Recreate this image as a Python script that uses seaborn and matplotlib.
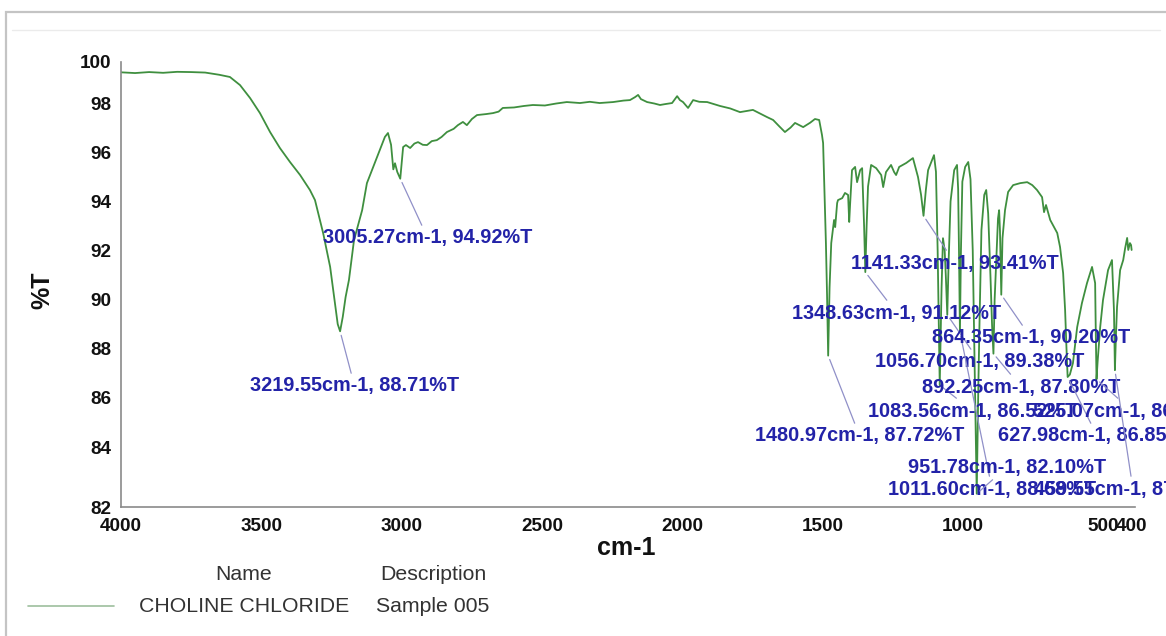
import matplotlib
matplotlib.use("Agg")
import matplotlib.pyplot as plt
import seaborn as sns
import pandas as pd
from matplotlib.patches import Rectangle
from matplotlib.lines import Line2D

# ---------------- data ----------------
wavenumber = [
    4000, 3950, 3900, 3850, 3800, 3750, 3700, 3650, 3612, 3576, 3540, 3505, 3469, 3434,
    3398, 3362, 3327, 3309, 3280, 3255, 3238, 3228, 3219.55, 3210, 3200, 3188, 3170, 3141,
    3124, 3088, 3060, 3049, 3038, 3030, 3024, 3016, 3005.27, 2995, 2985, 2970, 2955, 2942,
    2925, 2910, 2893, 2875, 2858, 2839, 2815, 2800, 2782, 2768, 2750, 2732, 2700, 2675,
    2655, 2640, 2600, 2565, 2533, 2490, 2450, 2412, 2365, 2330, 2295, 2247, 2210, 2187,
    2169, 2158, 2148, 2126, 2100, 2080, 2060, 2037, 2019, 2009, 1998, 1980, 1962, 1940,
    1912, 1866, 1830, 1795, 1749, 1720, 1699, 1677, 1655, 1635, 1615, 1599, 1570, 1545,
    1528, 1513, 1503, 1499, 1489, 1485, 1480.97, 1476, 1470, 1460, 1456, 1449, 1446, 1431,
    1421, 1410, 1406, 1403, 1396, 1385, 1378, 1367, 1360, 1353, 1348.63, 1344, 1339, 1328,
    1310, 1292, 1285, 1275, 1257, 1246, 1239, 1228, 1203, 1179, 1161, 1150, 1141.33, 1133,
    1125, 1115, 1104, 1097, 1091, 1083.56, 1077, 1072, 1066, 1062, 1056.70, 1052, 1045, 1032,
    1022, 1018, 1015, 1011.60, 1008, 1003, 993, 982, 974, 966, 959, 951.78, 946, 942,
    935, 925, 918, 911, 903, 897, 892.25, 888, 882, 876, 872, 869, 864.35, 860,
    851, 840, 822, 797, 772, 754, 737, 719, 712, 705, 690, 665, 655, 644,
    637, 632, 627.98, 620, 609, 594, 577, 559, 541, 530, 527.5, 525.07, 521, 512,
    502, 484, 470, 463, 459.55, 456, 452, 441, 430, 423, 416, 412, 406, 402, 400,
]
transmittance = [
    99.25, 99.22, 99.26, 99.23, 99.27, 99.26, 99.24, 99.15, 99.06, 98.73, 98.20, 97.59, 96.82, 96.17,
    95.60, 95.07, 94.46, 94.05, 92.71, 91.33, 89.86, 89.00, 88.71, 89.30, 90.10, 90.80, 92.42, 93.64,
    94.74, 95.80, 96.62, 96.78, 96.30, 95.30, 95.55, 95.20, 94.92, 96.21, 96.29, 96.17, 96.35, 96.41,
    96.30, 96.29, 96.45, 96.49, 96.62, 96.82, 96.95, 97.10, 97.23, 97.10, 97.35, 97.51, 97.55, 97.59,
    97.65, 97.80, 97.82, 97.88, 97.92, 97.90, 97.98, 98.04, 98.00, 98.05, 98.00, 98.04, 98.10, 98.12,
    98.24, 98.33, 98.16, 98.04, 97.98, 97.92, 97.96, 98.00, 98.28, 98.12, 98.04, 97.80, 98.12, 98.05,
    98.04, 97.88, 97.78, 97.63, 97.72, 97.55, 97.43, 97.31, 97.05, 96.82, 97.00, 97.19, 97.02, 97.20,
    97.35, 97.31, 96.70, 96.37, 92.30, 90.20, 87.72, 90.50, 92.30, 93.24, 92.95, 93.93, 94.05, 94.13,
    94.34, 94.26, 93.16, 93.85, 95.27, 95.40, 94.78, 95.27, 95.35, 93.00, 91.12, 93.00, 94.60, 95.48,
    95.35, 95.07, 94.58, 95.19, 95.48, 95.19, 95.07, 95.40, 95.56, 95.76, 94.99, 94.26, 93.41, 94.46,
    95.27, 95.56, 95.88, 95.20, 92.00, 86.52, 90.50, 92.50, 92.00, 91.00, 89.38, 91.50, 94.00, 95.27,
    95.48, 94.50, 92.00, 88.68, 92.00, 94.80, 95.40, 95.60, 94.90, 92.00, 87.00, 82.10, 86.50, 89.00,
    92.83, 94.26, 94.46, 93.50, 91.00, 88.90, 87.80, 90.00, 91.60, 93.30, 93.64, 92.80, 90.20, 92.50,
    93.64, 94.38, 94.66, 94.74, 94.78, 94.66, 94.46, 94.17, 93.56, 93.85, 93.24, 92.71, 92.14, 91.08,
    89.58, 88.00, 86.85, 86.95, 87.42, 88.88, 89.86, 90.67, 91.33, 90.67, 88.50, 86.76, 87.50, 88.88,
    89.98, 91.20, 91.61, 89.58, 87.13, 88.50, 89.70, 91.20, 91.61, 92.10, 92.51, 92.02, 92.30, 92.22, 92.02,
]

peak_wavenumber = [3219.55, 3005.27, 1480.97, 1348.63, 1141.33, 1083.56, 1056.70,
                   1011.60, 951.78, 892.25, 864.35, 627.98, 525.07, 459.55]
peak_transmittance = [88.71, 94.92, 87.72, 91.12, 93.41, 86.52, 89.38,
                      88.68, 82.10, 87.80, 90.20, 86.85, 86.76, 87.13]
peak_labels = [f"{w:.2f}cm-1, {t:.2f}%T" for w, t in zip(peak_wavenumber, peak_transmittance)]

x_ticks = [4000, 3500, 3000, 2500, 2000, 1500, 1000, 500, 400]
y_tick_labels = ["82", "84", "86", "88", "90", "92", "94", "96", "98", "100"]
legend_headers = ["Name", "Description"]
legend_name = "CHOLINE CHLORIDE"
legend_desc = "Sample 005"

# ---------------- layout (figure pixels, origin top-left) ----------------
label_left_px = [(250, 386), (323, 238), (755, 436), (792, 313), (851, 263), (868, 411),
                 (875, 362), (888, 489), (908, 467), (922, 387), (932, 338), (998, 436),
                 (1033, 411), (1034, 489)]

W, H = 1166, 636
sns.set_theme(style="white")
plt.rcParams["font.family"] = ["Liberation Sans", "DejaVu Sans"]

fig = plt.figure(figsize=(W / 100, H / 100), dpi=100)
fig.patch.set_facecolor("white")
ax = fig.add_axes([121 / W, 1 - 507 / H, (1135 - 121) / W, (507 - 62) / H])
ax.set_facecolor("white")

df = pd.DataFrame({"wn": wavenumber, "T": transmittance})
sns.lineplot(data=df, x="wn", y="T", ax=ax, color="#3f8f3f", linewidth=1.3,
             estimator=None, sort=True)

ylo, yhi = 81.56, 99.67
ax.set_xlim(4000, 388)
ax.set_ylim(ylo, yhi)
ax.set_xticks(x_ticks)
ax.set_xticklabels([str(t) for t in x_ticks])
ax.set_yticks([ylo, 84, 86, 88, 90, 92, 94, 96, 98, yhi])
ax.set_yticklabels(y_tick_labels)
ax.set_xlabel("")
ax.set_ylabel("")
ax.tick_params(axis="both", direction="out", length=5, width=1, color="#808080",
               labelsize=13.6, labelcolor="#111111")
ax.tick_params(axis="x", pad=3)
ax.tick_params(axis="y", pad=2)
for lab in ax.get_xticklabels() + ax.get_yticklabels():
    lab.set_fontweight("bold")
for s in ["top", "right"]:
    ax.spines[s].set_visible(False)
for s in ["left", "bottom"]:
    ax.spines[s].set_color("#8a8a8a")
    ax.spines[s].set_linewidth(1.2)

# peak annotations
for w, t, lab, (px, py) in zip(peak_wavenumber, peak_transmittance, peak_labels, label_left_px):
    ax.annotate(lab, xy=(w, t), xycoords="data", xytext=(px, H - py),
                textcoords="figure pixels", ha="left", va="center",
                fontsize=14.3, fontweight="bold", color="#2323a8",
                annotation_clip=False,
                arrowprops=dict(arrowstyle="-", color="#9090c8", lw=0.9,
                                shrinkA=0, shrinkB=3))

# axis titles
fig.text(626 / W, 1 - 548 / H, "cm-1", ha="center", va="center",
         fontsize=18, fontweight="bold", color="#111111")
fig.text(42 / W, 1 - 290 / H, "%T", ha="center", va="center", rotation=90,
         fontsize=18, fontweight="bold", color="#111111")

# legend block
fs_leg = 15.3
fig.text(244 / W, 1 - 574 / H, legend_headers[0], ha="center", va="center",
         fontsize=fs_leg, color="#333333")
fig.text(433 / W, 1 - 574 / H, legend_headers[1], ha="center", va="center",
         fontsize=fs_leg, color="#333333")
fig.text(244 / W, 1 - 606 / H, legend_name, ha="center", va="center",
         fontsize=fs_leg, color="#333333")
fig.text(433 / W, 1 - 606 / H, legend_desc, ha="center", va="center",
         fontsize=fs_leg, color="#333333")
fig.add_artist(Line2D([28 / W, 114 / W], [1 - 606 / H] * 2, transform=fig.transFigure,
                      color="#9dbf9d", lw=1.2))

# outer panel frame
fig.add_artist(Rectangle((6 / W, -0.02), (W - 6) / W + 0.02, (H - 12) / H + 0.02,
                         transform=fig.transFigure, fill=False,
                         edgecolor="#c4c4c4", lw=1.6))
fig.add_artist(Line2D([12 / W, 1160 / W], [1 - 30 / H] * 2, transform=fig.transFigure,
                      color="#ebebeb", lw=1.0))

fig.savefig("out.png", dpi=100, facecolor="white")
